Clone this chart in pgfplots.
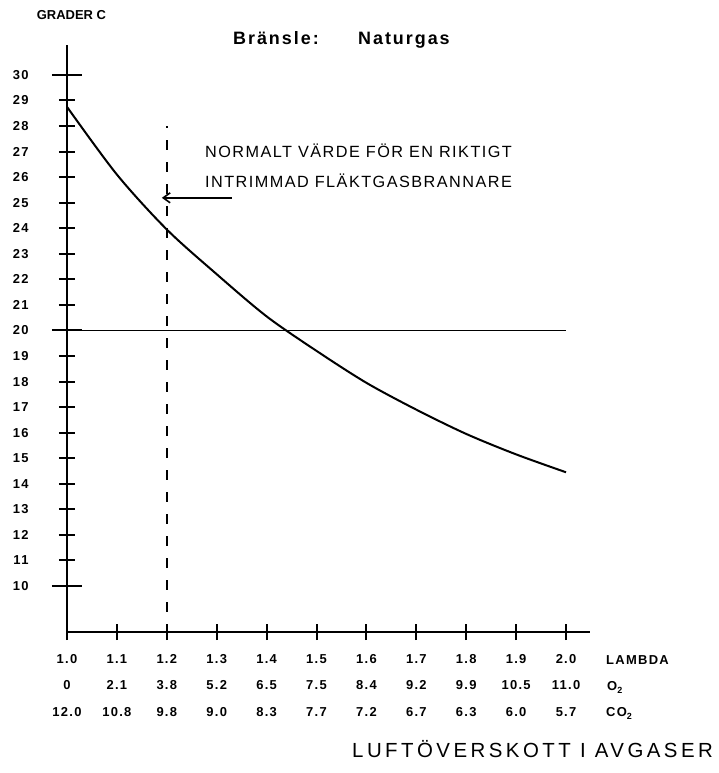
\documentclass[border=0pt]{standalone}
\usepackage{fontspec}
\setmainfont{Liberation Sans}
\newfontfamily\tickfont[LetterSpace=10]{Liberation Sans}
\newfontfamily\notefont[LetterSpace=9]{Liberation Sans}
\newfontfamily\titlefont[LetterSpace=11]{Liberation Sans}
\newfontfamily\bottomfont[LetterSpace=17]{Liberation Sans}
\usepackage{pgfplots}
\pgfplotsset{compat=1.18}
\usetikzlibrary{arrows.meta}
\begin{document}
\begin{tikzpicture}
\path[use as bounding box] (-67bp,-141bp) rectangle (652bp,632bp);
\begin{axis}[
  scale only axis, width=523bp, height=587bp,
  xmin=1.0, xmax=2.048, ymin=8.2, ymax=31.17,
  axis x line=bottom, axis y line=left,
  axis line style={-, line width=2.5bp},
  clip=false,
  /pgf/number format/assume math mode=true,
  tick align=center,
  major tick length=16bp,
  tick style={line width=2bp, black},
  xtick={1.0,1.1,1.2,1.3,1.4,1.5,1.6,1.7,1.8,1.9,2.0},
  xticklabels={{1.0\\0\\12.0},{1.1\\2.1\\10.8},{1.2\\3.8\\9.8},{1.3\\5.2\\9.0},{1.4\\6.5\\8.3},{1.5\\7.5\\7.7},{1.6\\8.4\\7.2},{1.7\\9.2\\6.7},{1.8\\9.9\\6.3},{1.9\\10.5\\6.0},{2.0\\11.0\\5.7}},
  xticklabel style={align=center, anchor=north, yshift=-11bp, font={\tickfont\bfseries\fontsize{13}{26.5}\selectfont}},
  ytick={10,11,12,13,14,15,16,17,18,19,20,21,22,23,24,25,26,27,28,29,30},
  yticklabel style={anchor=east, xshift=-27bp, font={\tickfont\bfseries\fontsize{13}{13}\selectfont}},
  extra y ticks={10,20,30}, extra y tick labels={},
  extra y tick style={major tick length=30bp},
]
\addplot[black, line width=2bp, smooth] coordinates {
  (1.0,28.75) (1.1,26.1) (1.2,23.95) (1.3,22.2) (1.4,20.55) (1.5,19.2)
  (1.6,17.95) (1.7,16.9) (1.8,15.95) (1.9,15.15) (2.0,14.45)};
\addplot[black, line width=1.6bp] coordinates {(1.0,20) (2.0,20)};
\addplot[black, line width=1.6bp] coordinates {(1.2,28.0) (1.2,27.93)};
\addplot[black, line width=1.6bp, dash pattern=on 10bp off 12bp] coordinates {(1.2,27.45) (1.2,8.2)};
\draw[black, line width=1.6bp, -{Straight Barb[length=7bp, width=10bp]}] (axis cs:1.33,25.19) -- (axis cs:1.19,25.19);
\end{axis}
\node[anchor=base west, inner sep=0pt] at (138bp,474bp) {\notefont\fontsize{16.3}{16.3}\selectfont NORMALT VÄRDE FÖR EN RIKTIGT};
\node[anchor=base west, inner sep=0pt] at (138bp,444bp) {\notefont\fontsize{16.3}{16.3}\selectfont INTRIMMAD FLÄKTGASBRANNARE};
\node[anchor=base west, inner sep=0pt] at (166bp,587.5bp) {\titlefont\bfseries\fontsize{18}{18}\selectfont Bränsle:};
\node[anchor=base west, inner sep=0pt] at (291bp,587.5bp) {\titlefont\bfseries\fontsize{18}{18}\selectfont Naturgas};
\node[anchor=base west, inner sep=0pt] at (-30.3bp,612.7bp) {\bfseries\fontsize{13}{13}\selectfont GRADER C};
\node[anchor=west, inner sep=0pt] at (539bp,-28bp) {\tickfont\bfseries\fontsize{13}{13}\selectfont LAMBDA};
\node[anchor=west, inner sep=0pt] at (540bp,-55bp) {\tickfont\bfseries\fontsize{13}{13}\selectfont O\raisebox{-3bp}{\fontsize{9}{9}\selectfont 2}};
\node[anchor=west, inner sep=0pt] at (539bp,-81bp) {\tickfont\bfseries\fontsize{13}{13}\selectfont CO\raisebox{-3bp}{\fontsize{9}{9}\selectfont 2}};
\node[anchor=base west, inner sep=0pt] at (285bp,-125bp) {\bottomfont\fontsize{20.5}{20.5}\selectfont LUFTÖVERSKOTT I AVGASER};
\end{tikzpicture}
\end{document}
